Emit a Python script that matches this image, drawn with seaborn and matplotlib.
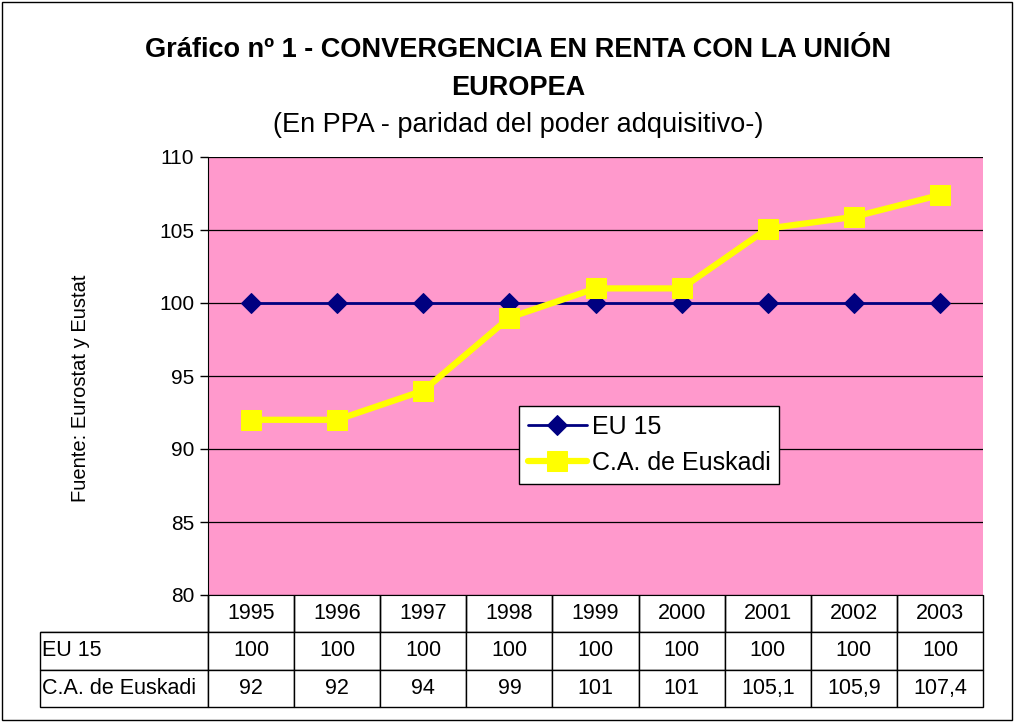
import matplotlib
matplotlib.use("Agg")
import matplotlib.pyplot as plt
import seaborn as sns
import pandas as pd
from matplotlib.patches import Rectangle

years = ["1995", "1996", "1997", "1998", "1999", "2000", "2001", "2002", "2003"]
eu15 = [100, 100, 100, 100, 100, 100, 100, 100, 100]
euskadi = [92, 92, 94, 99, 101, 101, 105.1, 105.9, 107.4]
eu15_txt = ["100"] * 9
euskadi_txt = ["92", "92", "94", "99", "101", "101", "105,1", "105,9", "107,4"]
series_names = ["EU 15", "C.A. de Euskadi"]

sns.set_style("white", {"text.color": "black", "axes.labelcolor": "black",
                        "xtick.color": "black", "ytick.color": "black"})
plt.rcParams["font.family"] = ["Liberation Sans", "DejaVu Sans"]

df = pd.DataFrame({
    "pos": list(range(len(years))) * 2,
    "valor": eu15 + euskadi,
    "serie": [series_names[0]] * len(years) + [series_names[1]] * len(years),
})

W, H = 1016, 722
fig = plt.figure(figsize=(W / 100, H / 100), dpi=100)
fig.patches.append(Rectangle((0.002, 0.003), 0.994, 0.994, transform=fig.transFigure,
                             fill=False, edgecolor="black", linewidth=1))

# plot area in pixels: x 208..983, y 157..595
ax = fig.add_axes([208 / W, 1 - 595 / H, 775 / W, 438 / H])
ax.set_facecolor("#FF99CC")

sns.lineplot(data=df[df.serie == series_names[0]], x="pos", y="valor", ax=ax,
             color="#000080", linewidth=2, marker="D", markersize=10,
             markeredgecolor="#000080", label=series_names[0])
sns.lineplot(data=df[df.serie == series_names[1]], x="pos", y="valor", ax=ax,
             color="#FFFF00", linewidth=4.5, marker="s", markersize=15,
             markeredgecolor="#FFFF00", label=series_names[1])

ax.set_xlim(-0.5, len(years) - 0.5)
ax.set_ylim(80, 110)
ax.set_yticks(range(80, 111, 5))
ax.tick_params(axis="y", labelsize=15, length=6, pad=4, direction="out", left=True,
               width=1, colors="black")
ax.set_xticks([])
ax.set_xlabel("")
ax.set_ylabel("")
ax.grid(axis="y", color="black", linewidth=0.9)
ax.set_axisbelow(True)
for s in ["top", "right"]:
    ax.spines[s].set_visible(False)
ax.spines["left"].set_color("black")
ax.spines["bottom"].set_color("black")

fig.text(81 / W, 1 - 388 / H, "Fuente: Eurostat y Eustat", rotation=90,
         ha="center", va="center", fontsize=14.5, color="black")

leg = ax.legend(loc="upper left", bbox_to_anchor=(519 / W, 1 - 406 / H),
                bbox_transform=fig.transFigure, borderaxespad=0,
                fontsize=18, frameon=True, fancybox=False, edgecolor="black",
                framealpha=1, handlelength=2.36, borderpad=0.35, labelspacing=0.5,
                handletextpad=0.2)
leg.get_frame().set_linewidth(1)
for t in leg.get_texts():
    t.set_color("black")

# data table below the plot
cell_text = [[""] + years,
             [series_names[0]] + eu15_txt,
             [series_names[1]] + euskadi_txt]
col_w = [168] + [775 / 9] * 9
tot = sum(col_w)
tbl = ax.table(cellText=cell_text, colWidths=[w / tot for w in col_w],
               bbox=[-168 / 775, -112 / 438, 943 / 775, 112 / 438], cellLoc="center")
tbl.auto_set_font_size(False)
tbl.set_fontsize(15.5)
for (r, c), cell in tbl.get_celld().items():
    cell.set_linewidth(1)
    cell.set_edgecolor("black")
    cell.set_facecolor("white")
    cell.get_text().set_color("black")
    if c == 0:
        cell.get_text().set_ha("left")
        cell._loc = "left"
        cell.PAD = 0.01
tbl[0, 0].visible_edges = "BR"
for c in range(1, 10):
    tbl[0, c].visible_edges = "BRL"

fig.text(0.510, 1 - 57 / H, "Gráfico nº 1 - CONVERGENCIA EN RENTA CON LA UNIÓN",
         ha="center", va="baseline", fontsize=19.5, fontweight="bold", color="black")
fig.text(0.510, 1 - 95 / H, "EUROPEA", ha="center", va="baseline",
         fontsize=19.5, fontweight="bold", color="black")
fig.text(0.510, 1 - 132 / H, "(En PPA - paridad del poder adquisitivo-)",
         ha="center", va="baseline", fontsize=19.5, color="black")

fig.savefig("out.png", dpi=100)
